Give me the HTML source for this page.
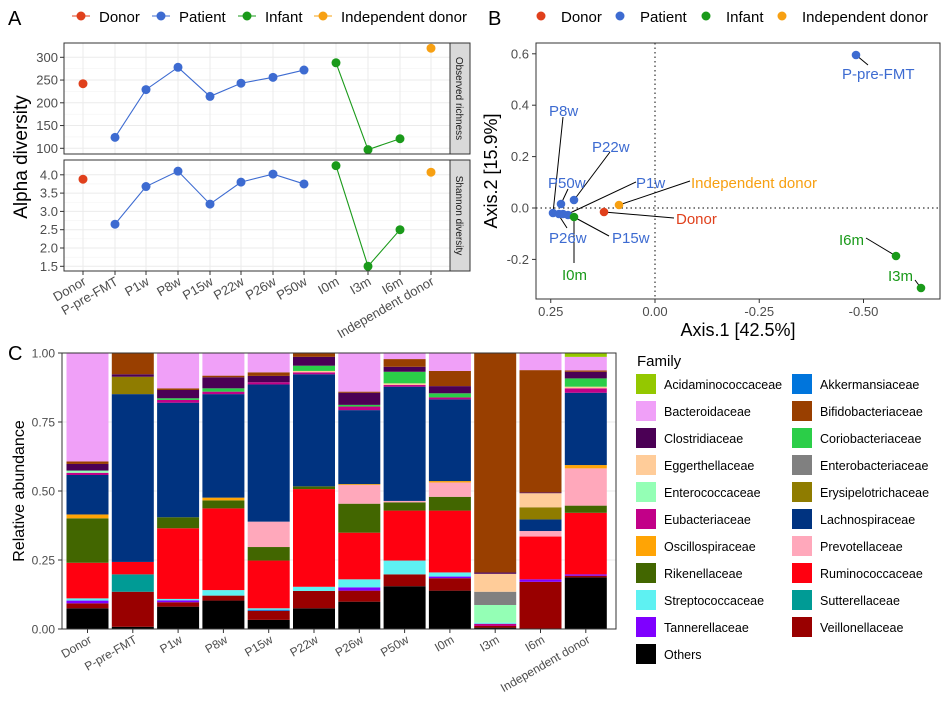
<!DOCTYPE html>
<html><head><meta charset="utf-8"><style>
body{margin:0;background:#fff}
svg{display:block;font-family:"Liberation Sans",Arial,sans-serif}
</style></head><body>
<svg id="s" width="948" height="702" viewBox="0 0 948 702" xmlns="http://www.w3.org/2000/svg"></svg>
<script>
const S=document.getElementById('s');let h='';
const R='#E0401C',B='#3D6BD1',G='#1A9A1A',O='#F7A012';
function t(x,y,s,o){o=o||{};h+=`<text x="${x}" y="${y}" font-size="${o.fs||13}" fill="${o.c||'#4d4d4d'}" text-anchor="${o.a||'start'}" ${o.tr?`transform="${o.tr}"`:''}>${s}</text>`;}
function ln(x1,y1,x2,y2,c,w,d){h+=`<line x1="${x1}" y1="${y1}" x2="${x2}" y2="${y2}" stroke="${c}" stroke-width="${w||1}" ${d?`stroke-dasharray="${d}"`:''}/>`;}
function ci(x,y,c,r){h+=`<circle cx="${x}" cy="${y}" r="${r||4.5}" fill="${c}"/>`;}
function rc(x,y,w,hh,f,s){h+=`<rect x="${x}" y="${y}" width="${w}" height="${hh}" fill="${f}" ${s?`stroke="${s}"`:''}/>`;}
t(8,25,'A',{fs:20,c:'#000'});t(488,25,'B',{fs:20,c:'#000'});t(8,360,'C',{fs:20,c:'#000'});
[[72,'Donor',R],[152,'Patient',B],[238,'Infant',G],[314,'Independent donor',O]].forEach(([x,s,c])=>{ln(x,16,x+18,16,c,1);ci(x+9,16,c,4.5);t(x+27,22,s,{fs:15,c:'#000'});});
[[561,'Donor',R],[640,'Patient',B],[726,'Infant',G],[802,'Independent donor',O]].forEach(([x,s,c])=>{ci(x-20,16,c,4.5);t(x,22,s,{fs:15,c:'#000'});});
const xs=[83,115,146,178,210,241,273,304,336,368,400,431];
const cols=[R,B,B,B,B,B,B,B,G,G,G,O];
function panelA(y0,y1,ticks,fy,vals,strip,dec){
 rc(64,y0,386,y1-y0,'#fff');
 for(let i=0;i<ticks.length-1;i++){const y=(fy(ticks[i])+fy(ticks[i+1]))/2;ln(64,y,450,y,'#f3f3f3',.6);}
 ticks.forEach(v=>{const y=fy(v);ln(64,y,450,y,'#ebebeb',1);t(58,y+4.5,v.toFixed(dec),{a:'end'});ln(60,y,64,y,'#333');});
 xs.forEach(x=>ln(x,y0,x,y1,'#ebebeb',1));
 const pts=vals.map((v,i)=>[xs[i],fy(v)]);
 h+=`<polyline points="${pts.slice(1,8).map(p=>p.join(',')).join(' ')}" fill="none" stroke="${B}" stroke-width="1.1"/>`;
 h+=`<polyline points="${pts.slice(8,11).map(p=>p.join(',')).join(' ')}" fill="none" stroke="${G}" stroke-width="1.1"/>`;
 pts.forEach((p,i)=>ci(p[0],p[1],cols[i],4.5));
 rc(64,y0,386,y1-y0,'none','#333');
 rc(450,y0,20,y1-y0,'#d9d9d9','#333');
 t(0,0,strip,{fs:10,c:'#1a1a1a',a:'middle',tr:`translate(456,${(y0+y1)/2}) rotate(90)`});
}
panelA(43,154,[100,150,200,250,300],v=>148.3-(v-100)*0.455,[242,124,229,278,214,243,256,272,288,97,121,320],'Observed richness',0);
panelA(160,271,[1.5,2.0,2.5,3.0,3.5,4.0],v=>266.3-(v-1.5)*36.6,[3.88,2.65,3.68,4.1,3.2,3.8,4.02,3.75,4.25,1.5,2.5,4.07],'Shannon diversity',1);
xs.forEach(x=>ln(x,271,x,275,'#333'));
const lab=['Donor','P-pre-FMT','P1w','P8w','P15w','P22w','P26w','P50w','I0m','I3m','I6m','Independent donor'];
lab.forEach((s,i)=>t(0,0,s,{a:'end',tr:`translate(${xs[i]+4},${284}) rotate(-30)`}));
t(0,0,'Alpha diversity',{fs:19,c:'#000',a:'middle',tr:'translate(27,157) rotate(-90)'});
const bx=v=>655-v*417, by=v=>208-v*257;
ln(655,43,655,299,'#333',1.2,'1.5,3');ln(536,208,940,208,'#333',1.2,'1.5,3');
[[0.25,'0.25'],[0,'0.00'],[-0.25,'-0.25'],[-0.5,'-0.50']].forEach(([v,s])=>{ln(bx(v),299,bx(v),303,'#333');t(bx(v),316,s,{a:'middle'});});
[[0.6,'0.6'],[0.4,'0.4'],[0.2,'0.2'],[0,'0.0'],[-0.2,'-0.2']].forEach(([v,s])=>{ln(532,by(v),536,by(v),'#333');t(529,by(v)+4.5,s,{a:'end'});});
t(738,336,'Axis.1 [42.5%]',{fs:18,c:'#000',a:'middle'});
t(0,0,'Axis.2 [15.9%]',{fs:18,c:'#000',a:'middle',tr:'translate(497,171) rotate(-90)'});
[[563,117,553,213],[610,152,574,200],[568,189,561,204],[636,182,570,213],[690,181,619,205],[674,218,604,212],[567,228,558,214],[609,236,572,216],[574,263,574,217],[868,65,856,55],[866,238,896,256],[915,280,921,288]].forEach(a=>ln(...a,'#000',1));
[[856,55,B],[896,256,G],[921,288,G],[604,212,R],[619,205,O],[561,204,B],[574,200,B],[553,213,B],[559,214,B],[563,214,B],[568,215,B],[574,217,G]].forEach(([x,y,c])=>ci(x,y,c,4.3));
const lt=[['P-pre-FMT',842,79,B],['I6m',839,245,G],['I3m',888,281,G],['Donor',676,224,R],['Independent donor',691,188,O],['P1w',636,188,B],['P50w',548,188,B],['P22w',592,152,B],['P8w',549,116,B],['P26w',549,243,B],['P15w',612,243,B],['I0m',562,280,G]];
lt.forEach(([s,x,y,c])=>t(x,y,s,{fs:15,c}));
rc(536,43,404,256,'none','#333');
const C={Acid:'#94C800',Bact:'#F0A0F8',Clos:'#4B0055',Egg:'#FFCC99',Ent:'#94FFB5',Eub:'#C20088',Osc:'#FFA405',Rik:'#426600',Str:'#5EF1F2',Tan:'#7F00FF',Oth:'#000',Akk:'#0075DC',Bif:'#993F00',Cor:'#2BCE48',Enb:'#808080',Ery:'#8F7C00',Lac:'#003380',Pre:'#FFA8BB',Rum:'#FF0010',Sut:'#009B95',Vei:'#990000'};
const bars=[
[['Oth',.075],['Vei',.093],['Tan',.103],['Str',.111],['Rum',.240],['Rik',.401],['Osc',.415],['Lac',.558],['Eub',.566],['Ent',.574],['Clos',.598],['Bif',.607],['Bact',1]],
[['Oth',.008],['Vei',.135],['Sut',.198],['Rum',.243],['Lac',.851],['Ery',.914],['Clos',.923],['Bif',1]],
[['Oth',.081],['Vei',.097],['Tan',.104],['Str',.109],['Rum',.365],['Rik',.405],['Lac',.820],['Eub',.830],['Cor',.836],['Clos',.866],['Bif',.872],['Bact',1]],
[['Oth',.103],['Vei',.121],['Str',.141],['Rum',.437],['Rik',.466],['Osc',.476],['Lac',.851],['Eub',.860],['Cor',.872],['Clos',.912],['Bif',.918],['Bact',1]],
[['Oth',.033],['Vei',.066],['Akk',.070],['Str',.075],['Rum',.248],['Rik',.297],['Pre',.389],['Lac',.886],['Eub',.894],['Clos',.917],['Bif',.930],['Bact',1]],
[['Oth',.075],['Vei',.138],['Str',.153],['Rum',.507],['Rik',.517],['Lac',.923],['Eub',.930],['Egg',.935],['Cor',.954],['Clos',.986],['Bif',1]],
[['Oth',.099],['Vei',.139],['Tan',.151],['Str',.180],['Rum',.349],['Rik',.454],['Pre',.522],['Osc',.525],['Lac',.793],['Eub',.806],['Cor',.812],['Clos',.856],['Bif',.860],['Bact',1]],
[['Oth',.155],['Vei',.198],['Str',.248],['Rum',.429],['Rik',.459],['Pre',.464],['Lac',.878],['Eub',.884],['Egg',.890],['Cor',.932],['Clos',.950],['Bif',.978],['Bact',1]],
[['Oth',.139],['Vei',.184],['Tan',.190],['Str',.205],['Rum',.429],['Rik',.479],['Pre',.531],['Osc',.536],['Lac',.832],['Eub',.839],['Cor',.854],['Clos',.880],['Bif',.935],['Bact',1]],
[['Oth',.005],['Vei',.011],['Eub',.019],['Str',.023],['Ent',.087],['Enb',.135],['Egg',.200],['Clos',.205],['Bif',1]],
[['Vei',.171],['Tan',.180],['Rum',.335],['Pre',.355],['Lac',.397],['Ery',.441],['Egg',.492],['Clos',.495],['Bif',.938],['Bact',1]],
[['Oth',.187],['Vei',.193],['Tan',.198],['Rum',.421],['Rik',.447],['Pre',.582],['Osc',.594],['Lac',.856],['Eub',.872],['Egg',.878],['Cor',.908],['Clos',.932],['Bif',.937],['Bact',.986],['Acid',1]]];
const cy=v=>629-v*276;
[0,.25,.5,.75,1].forEach(v=>{ln(62,cy(v),616,cy(v),'#ebebeb');ln(58,cy(v),62,cy(v),'#333');t(55,cy(v)+4.5,v.toFixed(2),{fs:12,a:'end'});});
bars.forEach((b,i)=>{const x=66.5+i*45.3;let p=0;b.forEach(([k,v])=>{rc(x,cy(v),42,cy(p)-cy(v),C[k]);p=v;});
 const cx=x+21;ln(cx,629,cx,633,'#333');t(0,0,lab[i],{fs:12,a:'end',tr:`translate(${cx+5},${642}) rotate(-30)`});});
rc(62,353,554,276,'none','#333');
t(0,0,'Relative abundance',{fs:16,c:'#000',a:'middle',tr:'translate(24,491) rotate(-90)'});
t(637,366,'Family',{fs:15,c:'#000'});
const L=[['Acidaminococcaceae','Acid'],['Bacteroidaceae','Bact'],['Clostridiaceae','Clos'],['Eggerthellaceae','Egg'],['Enterococcaceae','Ent'],['Eubacteriaceae','Eub'],['Oscillospiraceae','Osc'],['Rikenellaceae','Rik'],['Streptococcaceae','Str'],['Tannerellaceae','Tan'],['Others','Oth']];
const Rr=[['Akkermansiaceae','Akk'],['Bifidobacteriaceae','Bif'],['Coriobacteriaceae','Cor'],['Enterobacteriaceae','Enb'],['Erysipelotrichaceae','Ery'],['Lachnospiraceae','Lac'],['Prevotellaceae','Pre'],['Ruminococcaceae','Rum'],['Sutterellaceae','Sut'],['Veillonellaceae','Vei']];
L.forEach(([s,k],i)=>{const y=374+i*27;rc(636,y,20,20,C[k]);t(664,y+15,s,{fs:12.5,c:'#000'});});
Rr.forEach(([s,k],i)=>{const y=374+i*27;rc(792,y,20,20,C[k]);t(820,y+15,s,{fs:12.5,c:'#000'});});
S.innerHTML=h;
</script>
</body></html>
